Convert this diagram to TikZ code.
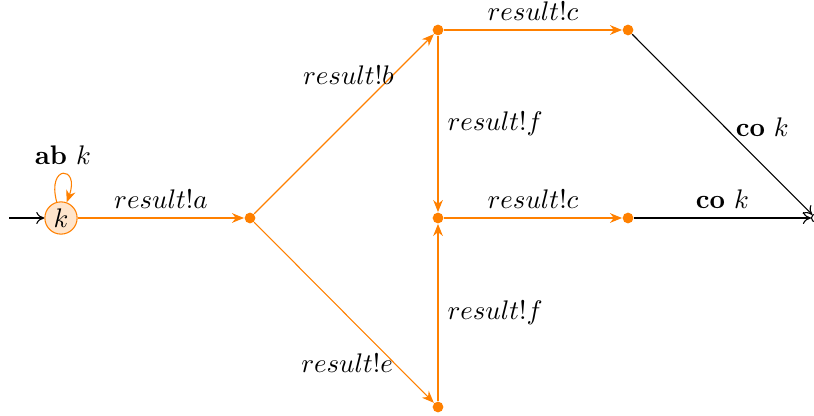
\documentclass[tikz,border=0pt]{standalone}
\usetikzlibrary{arrows.meta}
\begin{document}
\begin{tikzpicture}[x=0.372pt,y=-0.372pt,
  dotnode/.style={circle,fill=orange,inner sep=0pt,minimum size=4pt},
  endnode/.style={circle,draw=black,inner sep=0pt,minimum size=3pt},
  statenode/.style={circle,draw=orange,fill=orange!20,inner sep=0pt,minimum size=12pt},
  oarrow/.style={draw=orange,-{Stealth[length=4.5pt,width=3.6pt]}},
  barrow/.style={draw=black,-{To[length=3pt,width=4.5pt]}}]
\useasboundingbox (0,0) rectangle (814,415);
\coordinate (start) at (9,218);
\node[statenode] (k) at (61,218) {$k$};
\node[dotnode] (a) at (250,218) {};
\node[dotnode] (b) at (438,30) {};
\node[dotnode] (m) at (438,218) {};
\node[dotnode] (e) at (438,407) {};
\node[dotnode] (c1) at (628,30) {};
\node[dotnode] (c2) at (628,218) {};
\node[endnode] (z) at (815.5,218) {};
\draw[barrow] (start) -- (k);
\draw[oarrow] (k) to[out=105,in=70,min distance=11pt,looseness=10] node[above,black] {$\mathbf{ab}\ k$} (k);
\draw[oarrow] (k) -- node[above,black] {$result!a$} (a);
\draw[oarrow] (a) -- node[pos=0.77,left,black,xshift=4pt] {$result!b$} (b);
\draw[oarrow] (a) -- node[pos=0.78,left,black,xshift=3pt] {$result!e$} (e);
\draw[oarrow] (b) -- node[above,black] {$result!c$} (c1);
\draw[oarrow] (m) -- node[above,black] {$result!c$} (c2);
\draw[oarrow] (b) -- node[right,black] {$result!f$} (m);
\draw[oarrow] (e) -- node[right,black] {$result!f$} (m);
\draw[barrow] (c1) -- node[right,xshift=1.5pt,yshift=-1pt] {$\mathbf{co}\ k$} (z);
\draw[barrow] (c2) -- node[above] {$\mathbf{co}\ k$} (z);
\end{tikzpicture}
\end{document}
